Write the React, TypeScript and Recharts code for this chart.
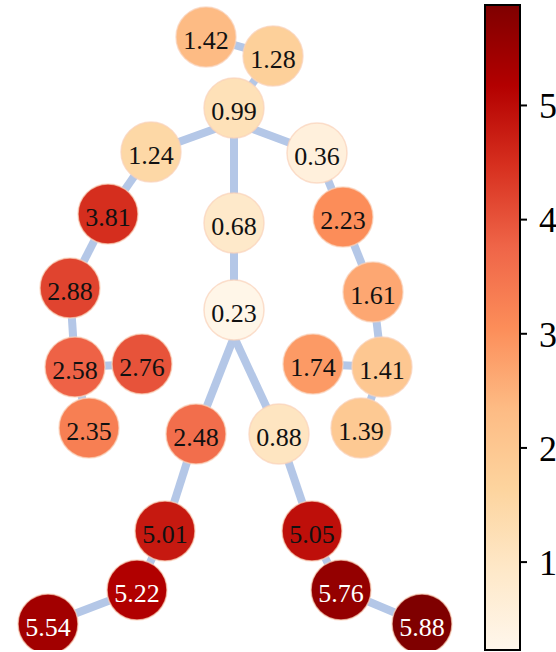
import { ScatterChart, Scatter, XAxis, YAxis, ReferenceArea } from "recharts"

// joint positions (x to the right, y downwards)
const labels = [
  "1.42", "1.28", "0.99", "1.24", "0.36", "3.81", "0.68", "2.23", "2.88", "0.23", "1.61", "2.58", "2.76",
  "1.74", "1.41", "2.35", "2.48", "0.88", "1.39", "5.01", "5.05", "5.22", "5.76", "5.54", "5.88",
]
const xs = [206, 273, 234, 151, 317, 108, 234, 343, 70, 234, 373, 75, 142, 313, 382, 89, 196, 279, 361, 165, 312, 137, 341, 48, 422]
const ys = [37, 56, 108, 152, 153, 214, 223, 217, 288, 310, 292, 367, 364, 364, 367, 428, 434, 434, 428, 531, 531, 590, 590, 624, 624]
// colour scale value each node is painted with (estimated from its fill)
const shades = [
  2.35, 1.75, 1.2, 1.5, 0.55, 4.5, 0.9, 3.05, 4.2, 0.3, 2.65, 3.8, 4.0,
  2.85, 2.0, 3.3, 3.6, 1.05, 1.95, 4.8, 4.95, 5.2, 5.6, 5.4, 5.88,
]
// hidden junctions where bones meet under a circle: neck (25), hip (26)
const junctionXs = [234, 234]
const junctionYs = [122, 337]
// bones, as pairs of point indices
const edges = [
  [0, 1], [1, 2], [25, 3], [25, 4], [2, 25], [2, 6], [3, 5], [5, 8], [8, 11], [11, 12], [11, 15],
  [4, 7], [7, 10], [10, 14], [14, 13], [14, 18], [6, 9], [9, 26], [26, 16], [26, 17],
  [16, 19], [19, 21], [21, 23], [17, 20], [20, 22], [22, 24],
]
const cbTicks = [1, 2, 3, 4, 5]
const vMin = 0.23
const vMax = 5.88

const orRd = ["#fff7ec", "#fee8c8", "#fdd49e", "#fdbb84", "#fc8d59", "#ef6548", "#d7301f", "#b30000", "#7f0000"]
const serif = "'Liberation Serif', 'Times New Roman', serif"

const hex = (c: string) => [1, 3, 5].map((i) => parseInt(c.slice(i, i + 2), 16))

function colorFor(v: number) {
  const t = Math.min(1, Math.max(0, (v - vMin) / (vMax - vMin))) * (orRd.length - 1)
  const i = Math.min(orRd.length - 2, Math.floor(t))
  const f = t - i
  const a = hex(orRd[i])
  const b = hex(orRd[i + 1])
  const c = a.map((av, k) => Math.round(av + (b[k] - av) * f))
  return `rgb(${c[0]},${c[1]},${c[2]})`
}

const nodes = labels.map((label, i) => ({ x: xs[i], y: ys[i], label, shade: shades[i] }))
const points = [...nodes.map((n) => ({ x: n.x, y: n.y })), ...junctionXs.map((x, i) => ({ x, y: junctionYs[i] }))]

const NodeShape = (props: any) => {
  const { cx, cy, payload } = props
  const dark = parseFloat(payload.label) > 5.1
  return (
    <g>
      <circle cx={cx} cy={cy} r={30} fill={colorFor(payload.shade)} stroke="rgba(250,210,185,0.7)" strokeWidth={1.5} />
      <text
        x={cx}
        y={cy + 3}
        textAnchor="middle"
        dominantBaseline="central"
        style={{ fontFamily: serif, fontSize: 26 }}
        fill={dark ? "#ffffff" : "#111111"}
      >
        {payload.label}
      </text>
    </g>
  )
}

export default function App() {
  return (
    <div style={{ position: "absolute", left: 0, top: 0, background: "#fff" }}>
      <ScatterChart width={556} height={652} margin={{ top: 5, right: 0, bottom: 2, left: 0 }}>
        <defs>
          <linearGradient id="cbGrad" x1="0" y1="0" x2="0" y2="1">
            {orRd
              .slice()
              .reverse()
              .map((c, i) => (
                <stop key={i} offset={`${(i / (orRd.length - 1)) * 100}%`} stopColor={c} />
              ))}
          </linearGradient>
        </defs>
        <XAxis type="number" dataKey="x" domain={[0, 520]} hide allowDataOverflow />
        <YAxis type="number" dataKey="y" domain={[5, 650]} reversed hide allowDataOverflow />
        <YAxis
          yAxisId="cb"
          orientation="right"
          type="number"
          domain={[vMin, vMax]}
          ticks={cbTicks}
          width={36}
          axisLine={false}
          tickSize={7}
          tickMargin={12}
          tickLine={{ stroke: "#000", strokeWidth: 2 }}
          tick={{ fill: "#000", fontSize: 36, fontFamily: serif, textAnchor: "start" }}
          allowDataOverflow
        />
        <ReferenceArea
          x1={485}
          x2={520}
          y1={vMin}
          y2={vMax}
          yAxisId="cb"
          fill="url(#cbGrad)"
          fillOpacity={1}
          stroke="#000"
          strokeWidth={2}
        />
        {edges.map(([a, b], i) => (
          <Scatter
            key={`e${i}`}
            data={[points[a], points[b]]}
            line={{ stroke: "#b4c7e7", strokeWidth: 8 }}
            shape={() => <g />}
            isAnimationActive={false}
          />
        ))}
        <Scatter data={nodes} shape={NodeShape} isAnimationActive={false} />
      </ScatterChart>
    </div>
  )
}
